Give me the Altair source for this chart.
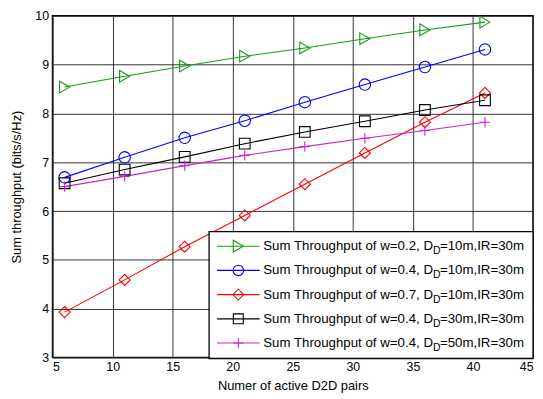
import altair as alt
import pandas as pd

# ---- data ----
x_pairs = [6, 11, 16, 21, 26, 31, 36, 41]
w02_d10 = [8.54, 8.76, 8.97, 9.17, 9.34, 9.53, 9.71, 9.87]
w04_d10 = [6.69, 7.10, 7.50, 7.85, 8.23, 8.59, 8.95, 9.31]
w07_d10 = [3.93, 4.59, 5.27, 5.91, 6.55, 7.19, 7.82, 8.42]
w04_d30 = [6.57, 6.85, 7.11, 7.38, 7.62, 7.84, 8.07, 8.27]
w04_d50 = [6.50, 6.71, 6.93, 7.14, 7.32, 7.49, 7.65, 7.82]

w_values = ["0.2", "0.4", "0.7", "0.4", "0.4"]
dd_values = ["10m", "10m", "10m", "30m", "50m"]
ir_value = "30m"
series_names = [f"w={w}, DD={d}" for w, d in zip(w_values, dd_values)]
series_values = [w02_d10, w04_d10, w07_d10, w04_d30, w04_d50]

x_ticks = [5, 10, 15, 20, 25, 30, 35, 40, 45]
y_ticks = [3, 4, 5, 6, 7, 8, 9, 10]

# ---- styles ----
colors = ["#1a9a1a", "#0000ff", "#ff0000", "#000000", "#cc22cc"]
shapes = ["triangle-right", "circle", "diamond", "square", "M-1,0L1,0M0,-1L0,1"]
sizes = [140, 110, 120, 100, 110]
FONT = "Liberation Sans"

PLOT_H = 345

rows = []
for name, vals in zip(series_names, series_values):
    for xv, yv in zip(x_pairs, vals):
        rows.append({"series": name, "x": xv, "y": yv})
df = pd.DataFrame(rows)

color_scale = alt.Scale(domain=series_names, range=colors)
shape_scale = alt.Scale(domain=series_names, range=shapes)
size_scale = alt.Scale(domain=series_names, range=sizes)

x_enc = alt.X("x:Q", scale=alt.Scale(domain=[5, 45], nice=False),
              axis=alt.Axis(values=x_ticks, title="Numer of active D2D pairs",
                            grid=True, ticks=False, domain=False,
                            labelPadding=3, titlePadding=7))
y_enc = alt.Y("y:Q", scale=alt.Scale(domain=[3, 10], nice=False),
              axis=alt.Axis(values=y_ticks, title="Sum throughput (bits/s/Hz)",
                            grid=True, ticks=False, domain=False,
                            labelPadding=4, titlePadding=11))

lines = alt.Chart(df).mark_line(strokeWidth=1.1).encode(
    x=x_enc, y=y_enc,
    color=alt.Color("series:N", scale=color_scale, legend=None),
    detail="series:N",
)
points = alt.Chart(df).mark_point(filled=False, strokeWidth=1.1, opacity=1).encode(
    x="x:Q", y="y:Q",
    color=alt.Color("series:N", scale=color_scale, legend=None),
    shape=alt.Shape("series:N", scale=shape_scale, legend=None),
    size=alt.Size("series:N", scale=size_scale, legend=None),
)

layers = [lines, points]

# ---- hand-built legend (needs subscripts) ----
one = pd.DataFrame({"k": [0]})
top0 = PLOT_H - 127
legend_box = alt.Chart(one).mark_rect(fill="white", stroke="black", strokeWidth=1.3).encode(
    x=alt.value(158), x2=alt.value(485), y=alt.value(top0), y2=alt.value(PLOT_H + 1)
)
layers.append(legend_box)

for i in range(len(series_names)):
    ly = top0 + 14.6 + i * 24.45
    seg = alt.Chart(one).mark_rule(color=colors[i], strokeWidth=1.1).encode(
        x=alt.value(166), x2=alt.value(209), y=alt.value(ly))
    mk = alt.Chart(one).mark_point(filled=False, shape=shapes[i], color=colors[i],
                                   size=sizes[i], strokeWidth=1.1, opacity=1).encode(
        x=alt.value(187.5), y=alt.value(ly))
    t1 = alt.Chart(pd.DataFrame({"t": [f"Sum Throughput of w={w_values[i]}, D"]})).mark_text(
        align="right", baseline="middle", font=FONT, fontSize=13.4, color="black").encode(
        x=alt.value(384), y=alt.value(ly), text="t:N")
    t2 = alt.Chart(pd.DataFrame({"t": ["D"]})).mark_text(
        align="left", baseline="middle", font=FONT, fontSize=10.5, color="black").encode(
        x=alt.value(384), y=alt.value(ly + 5), text="t:N")
    t3 = alt.Chart(pd.DataFrame({"t": [f"={dd_values[i]},IR={ir_value}"]})).mark_text(
        align="left", baseline="middle", font=FONT, fontSize=13.4, color="black").encode(
        x=alt.value(391), y=alt.value(ly), text="t:N")
    layers += [seg, mk, t1, t2, t3]

chart = alt.layer(*layers).properties(
    width=485, height=PLOT_H,
    autosize=alt.AutoSizeParams(type="none"),
    padding={"left": 45, "top": 6, "right": 2, "bottom": 35},
    background="white",
).configure_view(
    stroke="black", strokeWidth=1.6
).configure_axis(
    labelFont=FONT, titleFont=FONT, labelFontSize=12.5, titleFontSize=13,
    labelColor="black", titleColor="black", titleFontWeight="normal",
    gridColor="#333333", gridWidth=1, gridOpacity=1,
)

chart.save("out.html", embed_options={"renderer": "svg", "actions": False})
